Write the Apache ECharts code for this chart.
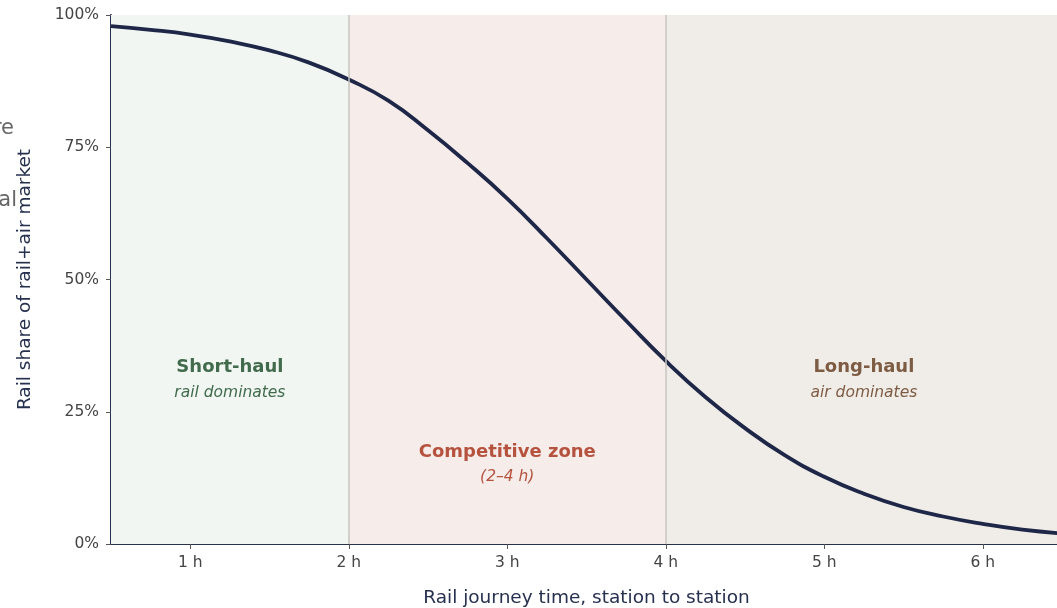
<!DOCTYPE html>
<html><head><meta charset="utf-8">
<script src="https://cdn.jsdelivr.net/npm/echarts@6/dist/echarts.min.js"></script>
<style>html,body{margin:0;padding:0;background:#fff}#c{width:1057px;height:608px}</style>
</head><body><div id="c"></div>
<script>
// Rail journey time (hours)
const hours = [0.5,0.75,1.0,1.25,1.5,1.75,2.0,2.25,2.5,2.75,3.0,3.25,3.5,3.75,4.0,4.25,4.5,4.75,5.0,5.25,5.5,5.75,6.0,6.25,6.5];
// Rail share of rail+air market (%)
const railShare = [97.9,97.2,96.3,95.0,93.3,91.0,87.8,83.8,78.2,72.0,65.3,57.8,50.0,42.2,34.6,27.8,21.9,16.8,12.7,9.5,7.0,5.2,3.8,2.7,2.0];
const xTicks = [1,2,3,4,5,6];
const zones = [
  {name:'Short-haul', sub:'rail dominates', from:0.5, to:2, lx:1.25, ly:31},
  {name:'Competitive zone', sub:'(2–4 h)', from:2, to:4, lx:3, ly:15},
  {name:'Long-haul', sub:'air dominates', from:4, to:6.5, lx:5.25, ly:31}
];
const zoneFill = ['#f1f6f2','#f6ecea','#f0ece8'];
const zoneText = ['#416b4c','#b5533f','#7d5c43'];
const boundaries = [2,4];

const chart = echarts.init(document.getElementById('c'));
const font = '"DejaVu Sans", sans-serif';
chart.setOption({
  animation:false,
  textStyle:{fontFamily:font},
  grid:{left:111,right:-5,top:15,bottom:64,containLabel:false,outerBoundsMode:'none'},
  xAxis:{type:'value',min:0.5,max:6.5,interval:0.5,
    name:'Rail journey time, station to station',nameLocation:'middle',nameGap:45,
    nameTextStyle:{fontSize:18.5,color:'#26304f',fontFamily:font},
    axisLine:{lineStyle:{color:'#26304f',width:2}},
    axisTick:{length:5,lineStyle:{color:'#555'},customValues:xTicks},
    axisLabel:{color:'#444',fontSize:15.5,margin:11,customValues:xTicks,formatter:v=>v+' h'},
    splitLine:{show:false}},
  yAxis:{type:'value',min:0,max:100,interval:25,
    name:'Rail share of rail+air market',nameLocation:'middle',nameGap:76,
    nameTextStyle:{fontSize:18.5,color:'#26304f',fontFamily:font},
    axisLine:{show:true,lineStyle:{color:'#26304f',width:2}},
    axisTick:{show:true,length:5,lineStyle:{color:'#555'}},
    axisLabel:{color:'#444',fontSize:15.5,margin:12,formatter:v=>v+'%'},
    splitLine:{show:true,lineStyle:{color:'#d4d4d4',type:[2,3],width:1}}},
  graphic:[
    {type:'text',x:14,y:129,style:{text:'re',fill:'#666',fontSize:21,fontFamily:font,align:'right',verticalAlign:'middle'}},
    {type:'text',x:17,y:201,style:{text:'al',fill:'#666',fontSize:21,fontFamily:font,align:'right',verticalAlign:'middle'}}
  ],
  series:[
    {type:'line',data:[],silent:true,z:1,
      markArea:{silent:true,itemStyle:{opacity:1},
        data:zones.map((z,i)=>[{xAxis:z.from,yAxis:0,itemStyle:{color:zoneFill[i]}},{xAxis:z.to,yAxis:100}])},
      markLine:{silent:true,symbol:'none',label:{show:false},
        lineStyle:{color:'#c9c4c0',type:'solid',width:1.5},
        data:boundaries.map(b=>({xAxis:b}))}
    },
    {type:'scatter',symbolSize:0,silent:true,z:3,itemStyle:{opacity:1},
      data:zones.map((z,i)=>({value:[z.lx,z.ly],
        label:{show:true,position:'inside',align:'center',verticalAlign:'middle',opacity:1,
          formatter:'{b|'+z.name+'}\n{i|'+z.sub+'}',
          rich:{b:{fontSize:18,fontWeight:'bold',color:zoneText[i],fontFamily:font,lineHeight:25,align:'center'},
                i:{fontSize:15.5,fontStyle:'italic',color:zoneText[i],fontFamily:font,lineHeight:25,align:'center'}}}}))
    },
    {type:'line',data:hours.map((h,i)=>[h,railShare[i]]),smooth:true,showSymbol:false,z:4,
      lineStyle:{color:'#1e2747',width:3.8}}
  ]
});
</script></body></html>
